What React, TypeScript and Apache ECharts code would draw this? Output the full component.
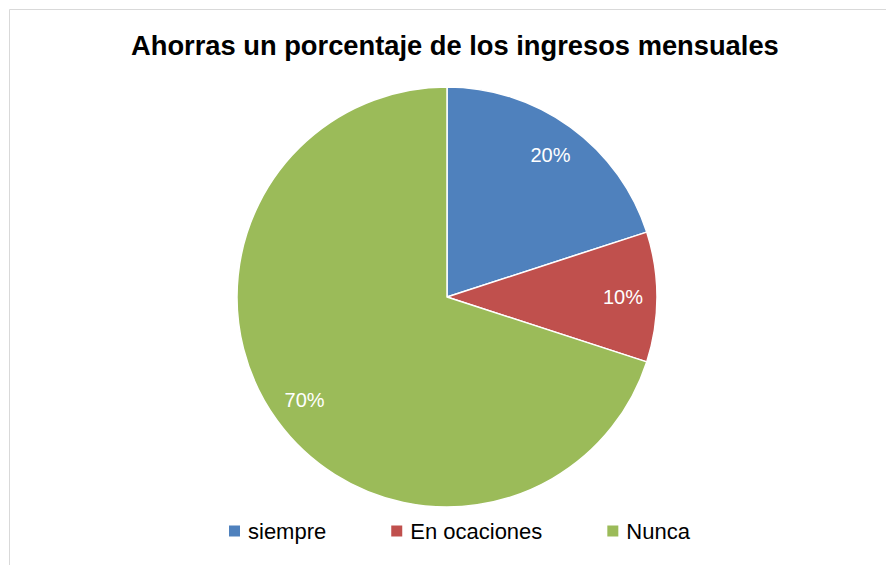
import React, { useEffect, useRef } from "react";
import * as echarts from "echarts";

const TITLE = "Ahorras un porcentaje de los ingresos mensuales";
const categories = ["siempre", "En ocaciones", "Nunca"];
const values = [20, 10, 70];
const colors = ["#4F81BD", "#C0504D", "#9BBB59"];

export default function App() {
  const ref = useRef<HTMLDivElement>(null);
  useEffect(() => {
    const chart = echarts.init(ref.current!, null, { renderer: "svg" });
    const font = "'Liberation Sans', Arial, sans-serif";
    chart.setOption({
      animation: false,
      backgroundColor: "#ffffff",
      title: {
        text: TITLE,
        left: 131,
        top: 32,
        padding: 0,
        textStyle: { fontFamily: font, fontWeight: "bold", fontSize: 27.3, color: "#000000" },
      },
      graphic: [
        {
          type: "rect",
          shape: { x: 9.5, y: 9.5, width: 1000, height: 700 },
          style: { fill: "none", stroke: "#d9d9d9", lineWidth: 1 },
          silent: true,
        },
      ],
      legend: {
        left: 227,
        top: 520,
        padding: 0,
        itemWidth: 13,
        itemHeight: 13,
        itemGap: 63,
        icon: "rect",
        textStyle: { fontFamily: font, fontSize: 22, color: "#000000", padding: [0, 0, 0, 2] },
        data: categories,
      },
      series: [
        {
          type: "pie",
          center: [447, 297],
          radius: [0, 210],
          startAngle: 90,
          clockwise: true,
          data: categories.map((name, i) => ({ name, value: values[i], itemStyle: { color: colors[i] } })),
          itemStyle: { borderColor: "#ffffff", borderWidth: 1.5 },
          label: { show: false },
          labelLine: { show: false },
          emphasis: { disabled: true },
        },
        {
          type: "pie",
          center: [447, 297],
          radius: [136, 210],
          startAngle: 90,
          clockwise: true,
          silent: true,
          legendHoverLink: false,
          data: categories.map((name, i) => ({ name: name + " ", value: values[i], itemStyle: { color: "transparent" } })),
          label: {
            show: true,
            position: "inside",
            formatter: (p: any) => p.value + "%",
            fontFamily: font,
            fontSize: 20,
            color: "#ffffff",
          },
          labelLine: { show: false },
          emphasis: { disabled: true },
        },
      ],
    });
    return () => chart.dispose();
  }, []);
  return <div ref={ref} style={{ position: "fixed", left: 0, top: 0, width: 886, height: 565 }} />;
}
